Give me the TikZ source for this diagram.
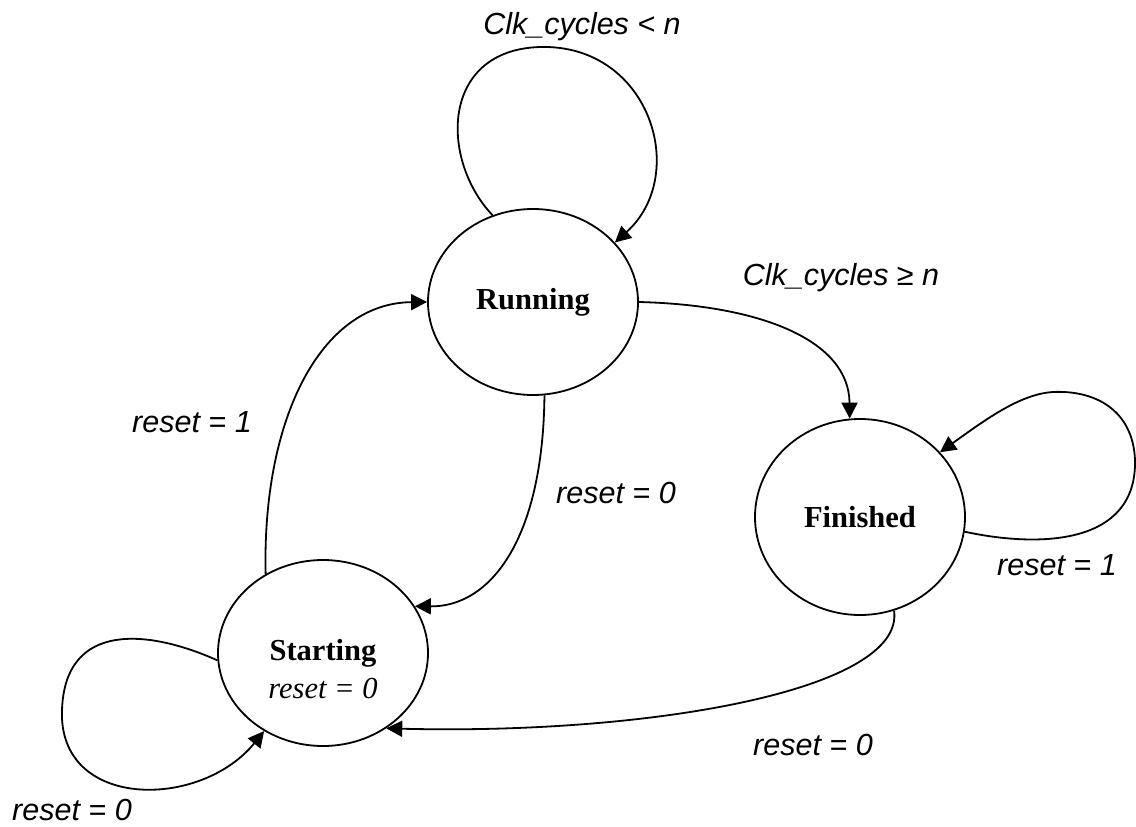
\documentclass[tikz,border=0pt]{standalone}
\usepackage{fontspec}
\setmainfont{Liberation Serif}
\setsansfont{Liberation Sans}
\usetikzlibrary{arrows.meta, shapes.geometric}

\begin{document}
\begin{tikzpicture}[x = 1pt, y = -1pt, line width = 1.8pt,
	state/.style = {draw, ellipse, minimum width = 210pt, minimum height = 186pt, inner sep = 0pt, font = \F\bfseries},
	cond/.style = {inner sep = 0pt, font = \F\sffamily\itshape},
	trans/.style = {-{Triangle[length = 16pt, width = 16pt]}}]

	% Definitions
	
	\def\F{\fontsize{30.5}{36}\selectfont}	% Text size
	
	\useasboundingbox (0, 0) rectangle (1136, 827);
	
	% States
	
	\node [state] (running) at (533, 302) {Running};
	\node [state, minimum height = 196pt] (finished) at (860, 517) {Finished};
	\node [state] (starting) at (323, 653) {Starting};
	\node [inner sep = 0pt, font = \F\itshape, yshift = -36pt] (startcond) at (starting.center) {reset = 0};
	
	% Transitions
	
	\draw [trans] (running.115) .. controls (440, 160) and (440, 50) .. (540, 47)
		.. controls (650, 44) and (690, 175) .. (running.36);
	\draw [trans] (running.east) .. controls (760, 305) and (849, 340) .. (finished.96);
	\draw [trans] (running.-83) .. controls (543, 540) and (490, 607) .. (starting.27);
	\draw [trans] (starting.126) .. controls (262, 420) and (320, 303) .. (running.west);
	\draw [trans] (finished.-8) .. controls (1040, 548) and (1137, 545) .. (1135, 460)
		.. controls (1133, 410) and (1095, 390) .. (1053, 392)
		.. controls (1020, 394) and (985, 420) .. (finished.39);
	\draw [trans] (finished.-70) .. controls (905, 690) and (650, 735) .. (starting.-50);
	\draw [trans] (starting.184) .. controls (150, 630) and (65, 620) .. (62, 710)
		.. controls (58, 810) and (200, 810) .. (starting.233);
	
	% Conditions
	
	\node [cond] (clklt) at (582, 27) {Clk\_cycles < n};
	\node [cond] (clkge) at (841, 278) {Clk\_cycles ≥ n};
	\node [cond] (runreset) at (192, 422) {reset = 1};
	\node [cond] (stopreset) at (616, 493) {reset = 0};
	\node [cond] (finreset) at (1057, 565) {reset = 1};
	\node [cond] (backreset) at (813, 745) {reset = 0};
	\node [cond] (startreset) at (72, 810) {reset = 0};

\end{tikzpicture}
\end{document}
